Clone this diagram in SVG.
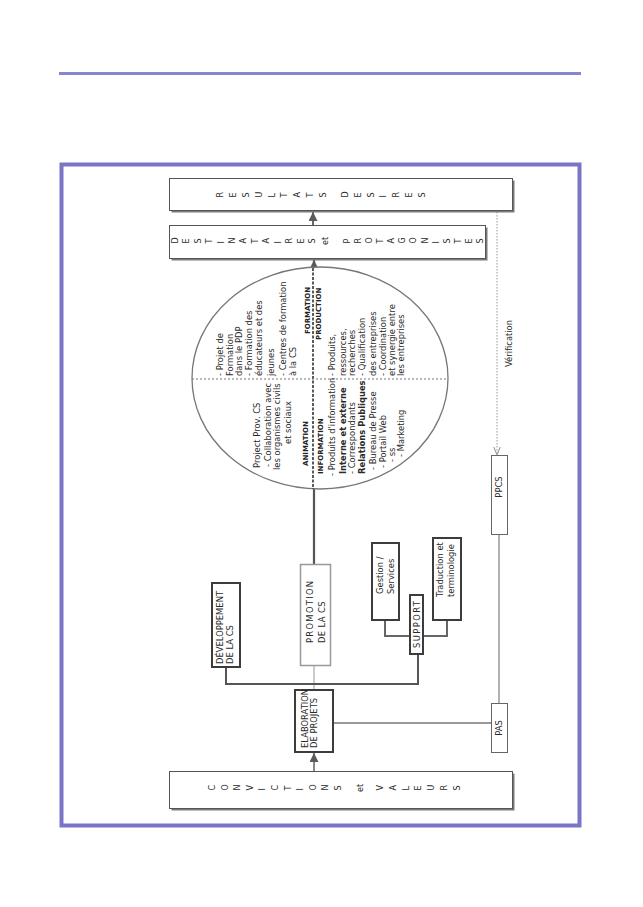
<svg xmlns="http://www.w3.org/2000/svg" width="643" height="907" viewBox="0 0 643 907">
<defs>
<style>
.t{font-family:"DejaVu Sans","Liberation Sans",sans-serif;font-size:8.4px;fill:#2a2a2a}
.lb{font-family:"DejaVu Sans","Liberation Sans",sans-serif;font-size:7px;font-weight:bold;fill:#222}
.ttl{font-family:"DejaVu Sans","Liberation Sans",sans-serif;font-size:8px;fill:#2a2a2a}
.box{fill:#fff;stroke:#555;stroke-width:1}
.sh{fill:#7a7a7a}
.nb{fill:#fff;stroke:#3c3c3c;stroke-width:2}
.cn{fill:none;stroke-linecap:butt}
</style>
<marker id="ah" viewBox="0 0 10 10" refX="10" refY="5" markerWidth="9" markerHeight="9" markerUnits="userSpaceOnUse" orient="auto">
<path d="M0,0 L10,5 L0,10 z" fill="#5a5a5a"/>
</marker>
<marker id="oa" viewBox="0 0 10 10" refX="10" refY="5" markerWidth="8" markerHeight="8" markerUnits="userSpaceOnUse" orient="auto">
<path d="M0,1 L10,5 L0,9" fill="none" stroke="#999" stroke-width="1.3"/>
</marker>
</defs>
<rect width="643" height="907" fill="#fff"/>
<rect x="59" y="72" width="522" height="3" fill="#8985cd"/>
<rect x="61.5" y="164.5" width="518" height="661" fill="none" stroke="#7a75c5" stroke-width="4"/>

<g id="connectors">
<line class="cn" x1="313" y1="226" x2="313" y2="212" stroke="#666" stroke-width="2" marker-end="url(#ah)"/>
<line class="cn" x1="314" y1="564" x2="314" y2="260" stroke="#555" stroke-width="2.2" marker-end="url(#ah)"/>
<line class="cn" x1="314" y1="771" x2="314" y2="753" stroke="#888" stroke-width="2" marker-end="url(#ah)"/>
<line class="cn" x1="314" y1="665" x2="314" y2="690" stroke="#999" stroke-width="1"/>
<polyline class="cn" points="226,667 226,684 418,684 418,654" stroke="#555" stroke-width="2"/>
<polyline class="cn" points="385,620 385,636 410,636" stroke="#666" stroke-width="2"/>
<polyline class="cn" points="447,620 447,636 423,636" stroke="#666" stroke-width="2"/>
<line class="cn" x1="333" y1="723" x2="491" y2="723" stroke="#777" stroke-width="1.5"/>
<line class="cn" x1="499" y1="703" x2="499" y2="535" stroke="#888" stroke-width="1.3"/>
<line class="cn" x1="497" y1="212" x2="497" y2="455" stroke="#999" stroke-width="1" stroke-dasharray="1.5 1.5" marker-end="url(#oa)"/>
<text class="t" font-size="9" fill="#444" transform="translate(512,367) rotate(-90)">Vérification</text>
</g>

<g id="resultats-desires">
<rect class="sh" x="171.5" y="180.5" width="343" height="32"/>
<rect class="box" x="169.5" y="178.5" width="343" height="32"/>
<text class="ttl" x="222.9 235.8 248.7 261.6 274.5 287.4 300.3 313.2 326.1" y="197.5" rotate="-90">RESULTATS</text>
<text class="ttl" x="347.9 360.7 373.5 386.3 399.1 411.9 424.7" y="197.5" rotate="-90">DESIRES</text>
</g>

<g id="destinataires-protagonistes">
<rect class="sh" x="171.5" y="227.5" width="316" height="33"/>
<rect class="box" x="169.5" y="225.5" width="316" height="33"/>
<text class="ttl" x="177.9 189.3 200.7 212.2 223.6 235 246.4 257.8 269.2 280.7 292.1 303.5 314.9" y="243.5" rotate="-90">DESTINATAIRES</text>
<text class="ttl" font-size="6.5" text-anchor="middle" transform="translate(327.5,241) rotate(-90)">et</text>
<text class="ttl" x="349.9 361 372.1 383.2 394.2 405.3 416.4 427.5 438.6 449.7 460.7 471.8 482.9" y="243.5" rotate="-90">PROTAGONISTES</text>
</g>

<g id="quadrants">
<ellipse cx="320" cy="378" rx="128" ry="111" fill="#fff" stroke="#777" stroke-width="1.3"/>
<line x1="313" y1="268" x2="313" y2="489" stroke="#333" stroke-width="1.6" stroke-dasharray="3 1.5"/>
<line x1="192" y1="379" x2="448" y2="379" stroke="#777" stroke-width="1" stroke-dasharray="2 2"/>
<text class="t" transform="translate(223,376) rotate(-90)">- Projet de</text>
<text class="t" transform="translate(233,376) rotate(-90)">Formation</text>
<text class="t" transform="translate(242,376) rotate(-90)">dans le PDP</text>
<text class="t" transform="translate(252,376) rotate(-90)">- Formation des</text>
<text class="t" transform="translate(262,376) rotate(-90)">éducateurs et des</text>
<text class="t" transform="translate(274,376) rotate(-90)">jeunes</text>
<text class="t" transform="translate(286,376) rotate(-90)">- Centres de formation</text>
<text class="t" transform="translate(296,376) rotate(-90)">à la CS</text>
<text class="lb" transform="translate(310,334) rotate(-90)">FORMATION</text>
<text class="lb" transform="translate(321,340) rotate(-90)">PRODUCTION</text>
<text class="t" transform="translate(335,376) rotate(-90)">- Produits,</text>
<text class="t" transform="translate(346,376) rotate(-90)">ressources,</text>
<text class="t" transform="translate(355,376) rotate(-90)">recherches</text>
<text class="t" transform="translate(365,376) rotate(-90)">- Qualification</text>
<text class="t" transform="translate(376,376) rotate(-90)">des entreprises</text>
<text class="t" transform="translate(386,376) rotate(-90)">- Coordination</text>
<text class="t" transform="translate(395,376) rotate(-90)">et synergie entre</text>
<text class="t" transform="translate(404,376) rotate(-90)">les entreprises</text>
<text class="t" transform="translate(260,468) rotate(-90)">Project Prov. CS</text>
<text class="t" transform="translate(271,467) rotate(-90)">- Collaboration avec</text>
<text class="t" transform="translate(280,470) rotate(-90)">les organismes civils</text>
<text class="t" font-size="6.5" transform="translate(291,444) rotate(-90)">et sociaux</text>
<text class="lb" transform="translate(308,466) rotate(-90)">ANIMATION</text>
<text class="lb" transform="translate(323,474) rotate(-90)">INFORMATION</text>
<text class="t" transform="translate(335,476) rotate(-90)">- Produits d'information</text>
<text class="t" font-weight="bold" font-size="7.6" transform="translate(346,474) rotate(-90)">Interne et externe</text>
<text class="t" transform="translate(355,474) rotate(-90)">- Correspondants</text>
<text class="t" font-weight="bold" font-size="7.6" transform="translate(365,474) rotate(-90)">Relations Publiques</text>
<text class="t" transform="translate(376,470) rotate(-90)">- Bureau de Presse</text>
<text class="t" transform="translate(386,468) rotate(-90)">- Portail Web</text>
<text class="t" transform="translate(395,462) rotate(-90)">- ss</text>
<text class="t" transform="translate(404,457) rotate(-90)">- Marketing</text>
</g>

<g id="developpement">
<rect class="nb" x="212" y="583" width="28" height="84"/>
<text class="t" transform="translate(223,664) rotate(-90)">DÉVELOPPEMENT</text>
<text class="t" transform="translate(233,664) rotate(-90)">DE LA CS</text>
</g>

<g id="promotion">
<rect x="300.5" y="564.5" width="30" height="101" fill="#fff" stroke="#999" stroke-width="1.5"/>
<text class="t" letter-spacing="1.3" transform="translate(313,643) rotate(-90)">PROMOTION</text>
<text class="t" letter-spacing="0.4" transform="translate(325,643) rotate(-90)">DE LA CS</text>
</g>

<g id="gestion">
<rect class="nb" x="372" y="543" width="27" height="77"/>
<text class="t" font-size="9" transform="translate(383,594) rotate(-90)">Gestion /</text>
<text class="t" font-size="9" transform="translate(394,594) rotate(-90)">Services</text>
</g>

<g id="traduction">
<rect class="nb" x="433" y="538" width="28" height="82"/>
<text class="t" transform="translate(443,597) rotate(-90)">Traduction et</text>
<text class="t" transform="translate(454,597) rotate(-90)">terminologie</text>
</g>

<g id="support">
<rect class="nb" x="410" y="595" width="13" height="59"/>
<text class="t" font-size="7.5" letter-spacing="1.4" transform="translate(419.5,648) rotate(-90)">SUPPORT</text>
</g>

<g id="elaboration">
<rect class="nb" x="295" y="690" width="38" height="62"/>
<text class="t" font-size="7.2" fill="#111" transform="translate(308,748) rotate(-90)">ELABORATION</text>
<text class="t" font-size="7.2" fill="#111" transform="translate(317,748) rotate(-90)">DE PROJETS</text>
</g>

<g id="pas">
<rect x="491.5" y="703.5" width="16" height="49" fill="#fff" stroke="#666" stroke-width="1"/>
<text class="t" font-size="7" text-anchor="middle" transform="translate(502,728) rotate(-90)">PAS</text>
</g>

<g id="ppcs">
<rect x="491.5" y="455.5" width="16" height="79" fill="#fff" stroke="#666" stroke-width="1"/>
<text class="t" font-size="7" text-anchor="middle" transform="translate(502,487) rotate(-90)">PPCS</text>
</g>

<g id="convictions-valeurs">
<rect class="sh" x="171.5" y="773.5" width="343" height="37" fill="#aaa"/>
<rect class="box" x="169.5" y="771.5" width="343" height="37"/>
<text class="ttl" x="214.9 227.5 240.1 252.7 265.3 277.9 290.5 303.1 315.7 328.3 340.9" y="790.5" rotate="-90">CONVICTIONS</text>
<text class="ttl" font-size="6.5" text-anchor="middle" transform="translate(362.5,788) rotate(-90)">et</text>
<text class="ttl" x="382.9 395.7 408.6 421.4 434.2 447.1 459.9" y="790.5" rotate="-90">VALEURS</text>
</g>
</svg>
